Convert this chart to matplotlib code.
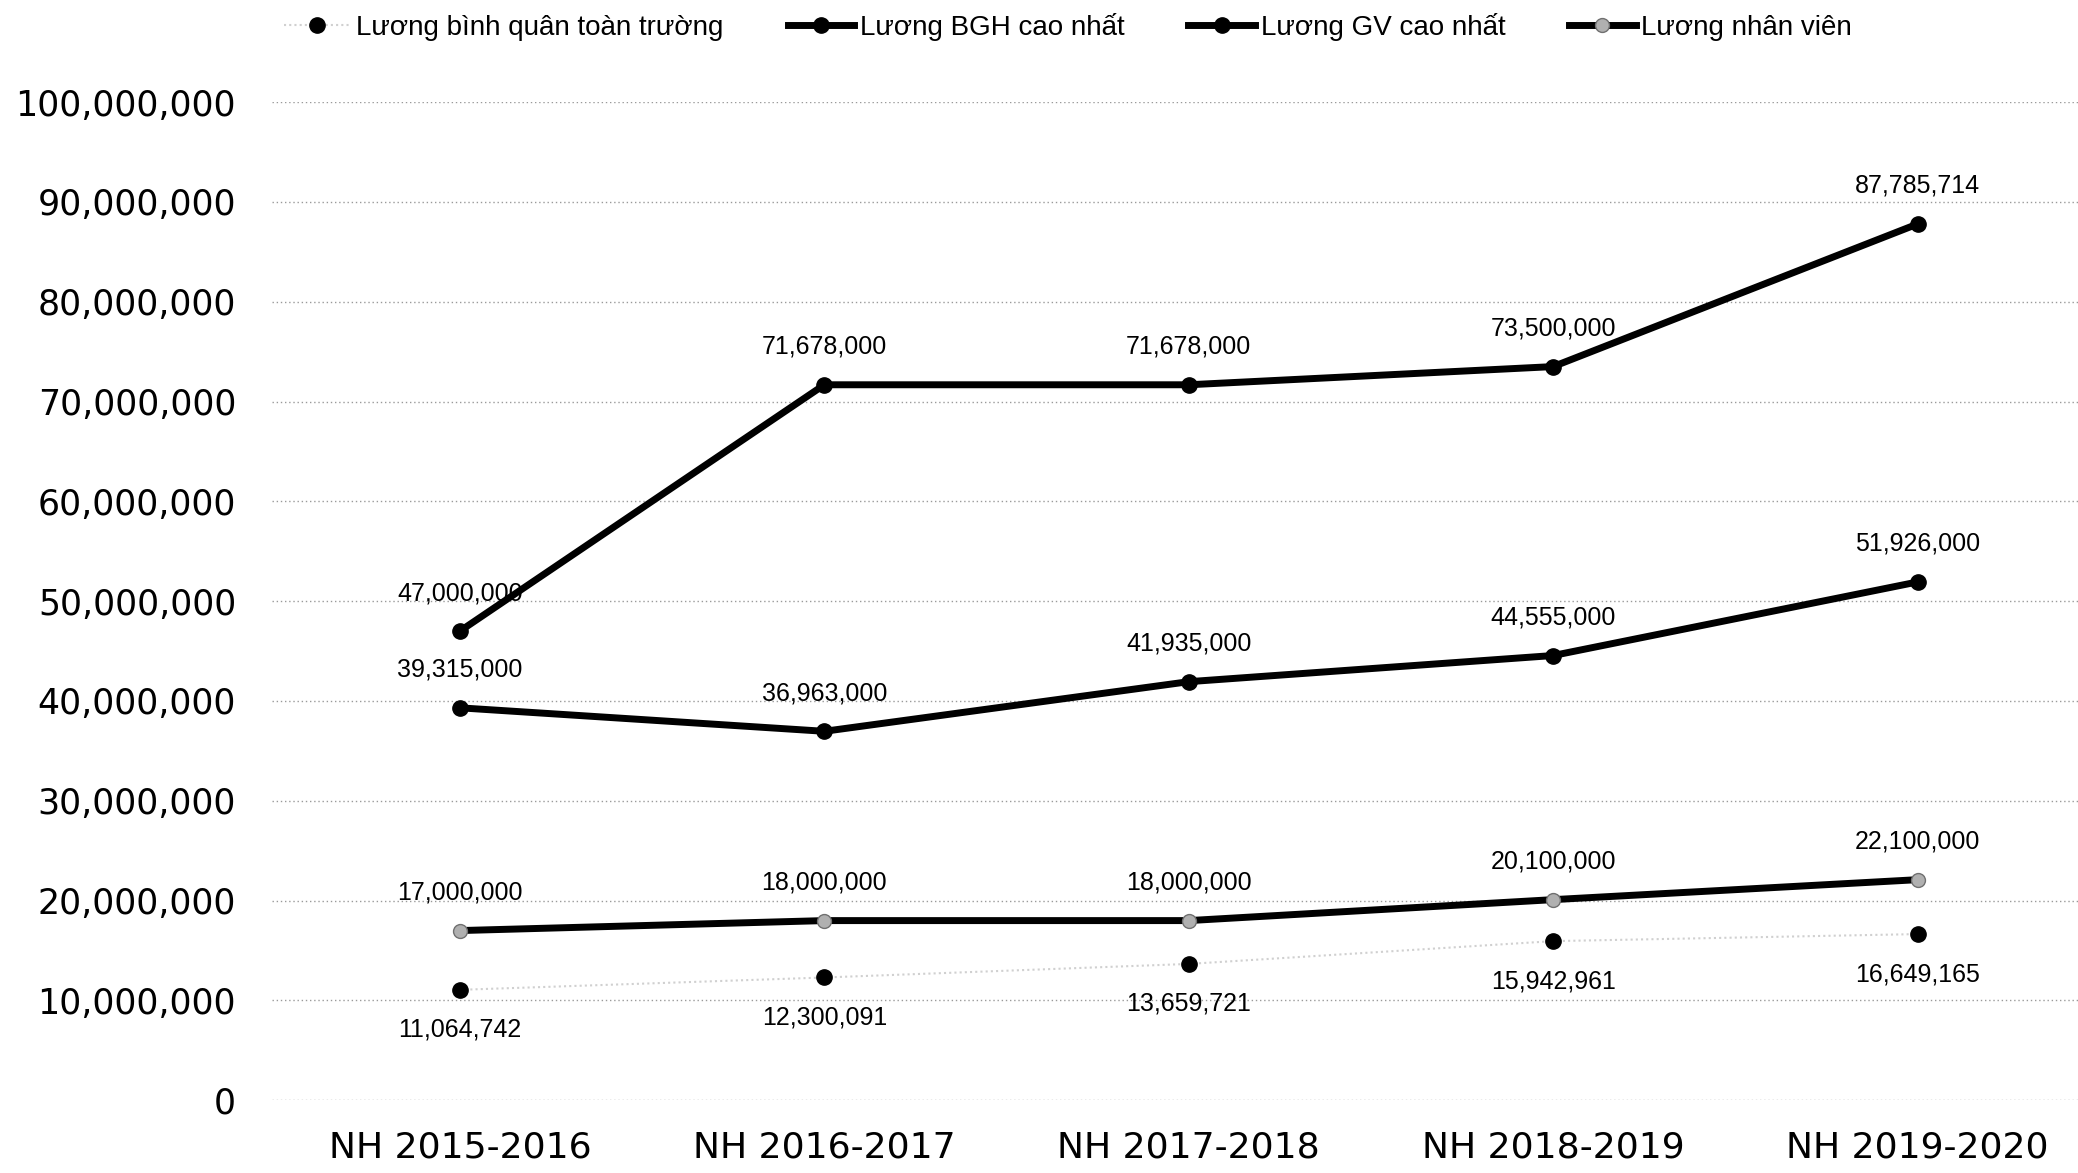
import matplotlib
matplotlib.use('Agg')
import matplotlib.pyplot as plt
from matplotlib.ticker import FuncFormatter
import numpy as np

years = ['NH 2015-2016', 'NH 2016-2017', 'NH 2017-2018', 'NH 2018-2019', 'NH 2019-2020']
luong_binh_quan = [11064742, 12300091, 13659721, 15942961, 16649165]
luong_bgh = [47000000, 71678000, 71678000, 73500000, 87785714]
luong_gv = [39315000, 36963000, 41935000, 44555000, 51926000]
luong_nv = [17000000, 18000000, 18000000, 20100000, 22100000]

fig = plt.figure(figsize=(20.78, 11.73), dpi=100)
ax = fig.add_axes([0.131, 0.062, 0.869, 0.851])
x = np.arange(len(years))

l1, = ax.plot(x, luong_binh_quan, color='#d0d0d0', lw=1.5, ls=(0, (1, 1.5)),
              marker='o', ms=11, mfc='black', mec='black', zorder=3)
l2, = ax.plot(x, luong_bgh, color='black', lw=5, marker='o', ms=11, zorder=3)
l3, = ax.plot(x, luong_gv, color='black', lw=5, marker='o', ms=11, zorder=3)
l4, = ax.plot(x, luong_nv, color='black', lw=5, marker='o', ms=10,
              mfc='#b0b0b0', mec='#707070', zorder=3)

lab_font = dict(family='Liberation Sans', size=18, ha='center', va='center')
for vals, dy in [(luong_bgh, 38), (luong_gv, 38), (luong_nv, 38), (luong_binh_quan, -40)]:
    for xi, v in zip(x, vals):
        ax.annotate(f'{v:,}', (xi, v), xytext=(0, dy * 0.72), textcoords='offset points', **lab_font)

ax.set_ylim(0, 100000000)
ax.set_xlim(-0.515, 4.44)
ax.set_yticks(np.arange(0, 100000001, 10000000))
ax.yaxis.set_major_formatter(FuncFormatter(lambda v, p: f'{int(v):,}'))
ax.set_xticks(x)
ax.set_xticklabels(years)
ax.tick_params(axis='y', length=0, pad=26, labelsize=25)
ax.tick_params(axis='x', length=0, pad=22, labelsize=26)
for s in ax.spines.values():
    s.set_visible(False)
ax.grid(axis='y', color='#9a9a9a', lw=1, ls=(0, (1, 2)))
ax.set_axisbelow(True)

fig.legend([l1, l2, l3, l4],
           ['Lương bình quân toàn trường', 'Lương BGH cao nhất', 'Lương GV cao nhất', 'Lương nhân viên'],
           loc='center', bbox_to_anchor=(0.514, 0.977), ncol=4, frameon=False,
           prop={'family': 'Liberation Sans', 'size': 20},
           handlelength=2.4, handletextpad=0.2, columnspacing=2.3)

fig.savefig('out.png', dpi=100)
